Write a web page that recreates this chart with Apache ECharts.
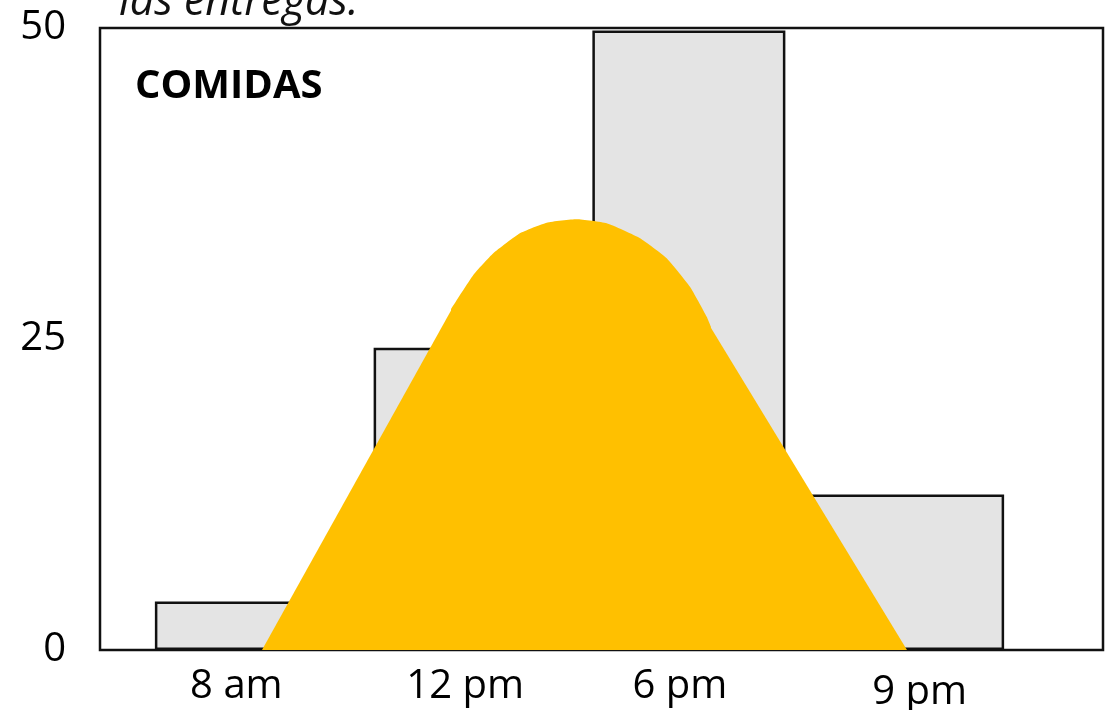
<!DOCTYPE html>
<html>
<head>
<meta charset="utf-8">
<script src="https://cdn.jsdelivr.net/npm/echarts@6/dist/echarts.min.js"></script>
<style>
  html, body { margin: 0; padding: 0; background: #fff; }
  #myEcharts { width: 1105px; height: 710px; }
</style>
</head>
<body>
<div id="myEcharts"></div>
<script>
// datos
const categories = ['8 am', '12 pm', '6 pm', '9 pm']
const mealValues = [3.9, 24.3, 49.8, 12.5]
const yTicks = [0, 25, 50]

// curva amarilla (x en escala 0-100 a lo ancho del marco)
const legX = [16.15, 35.19, 60.62, 80.46]
const legY = [0, 27.57, 26.29, 0]
const capX = [35.0, 37.22, 39.21, 41.87, 44.54, 47.53, 50.52, 53.84, 56.50, 58.82, 60.49, 60.9]
const capY = [27.4, 30.14, 31.89, 33.50, 34.35, 34.62, 34.30, 33.10, 31.49, 29.20, 26.79, 26.0]

const FONT = '"Open Sans", "Noto Sans", sans-serif'
// desplazamiento de cada etiqueta del eje x
const labelShift = [-15, -5, -9, 12]

const rich = {}
labelShift.forEach((s, i) => {
  rich['p' + i] = {
    fontFamily: FONT,
    fontSize: 40,
    color: '#000',
    padding: s < 0 ? [0, -2 * s, 0, 0] : [i === 3 ? 6 : 0, 0, 0, 2 * s]
  }
})

const chart = echarts.init(document.getElementById('myEcharts'))

const option = {
  animation: false,
  backgroundColor: '#fff',
  grid: [
    // marco
    { left: 100, right: 2, top: 28, bottom: 60, outerBoundsMode: 'none', show: true, borderColor: '#111', borderWidth: 2.5, backgroundColor: 'transparent' },
    // barras
    { left: 142, right: 88, top: 28, bottom: 60, outerBoundsMode: 'none' }
  ],
  xAxis: [
    {
      type: 'category',
      gridIndex: 1,
      data: categories,
      axisLine: { show: false },
      axisTick: { show: false },
      axisLabel: {
        margin: 17,
        formatter: (v, i) => `{p${i}|${v}}`,
        rich: rich
      }
    },
    {
      type: 'value',
      gridIndex: 0,
      min: 0,
      max: 100,
      show: false
    }
  ],
  yAxis: [
    {
      type: 'value',
      gridIndex: 0,
      min: yTicks[0],
      max: yTicks[yTicks.length - 1],
      interval: 25,
      axisLine: { show: false },
      axisTick: { show: false },
      splitLine: { show: false },
      axisLabel: { margin: 34, fontFamily: FONT, fontSize: 40, color: '#000' }
    },
    {
      type: 'value',
      gridIndex: 1,
      min: 0,
      max: 50,
      show: false
    }
  ],
  series: [
    {
      type: 'bar',
      xAxisIndex: 0,
      yAxisIndex: 1,
      data: mealValues,
      barWidth: 193,
      itemStyle: { color: '#e4e4e4', borderColor: '#111', borderWidth: 2.5 }
    },
    {
      type: 'line',
      xAxisIndex: 1,
      yAxisIndex: 0,
      data: legX.map((x, i) => [x, legY[i]]),
      showSymbol: false,
      lineStyle: { width: 0 },
      areaStyle: { color: '#FFC000', opacity: 1 },
      z: 3
    },
    {
      type: 'line',
      xAxisIndex: 1,
      yAxisIndex: 0,
      data: capX.map((x, i) => [x, capY[i]]),
      smooth: 0.15,
      showSymbol: false,
      lineStyle: { width: 0 },
      areaStyle: { color: '#FFC000', opacity: 1 },
      z: 3
    }
  ],
  graphic: [
    {
      type: 'text',
      left: 119,
      top: -19,
      style: { text: 'las entregas.', font: 'italic 43px ' + FONT, fill: '#111' }
    },
    {
      type: 'text',
      left: 135,
      top: 67,
      style: { text: 'COMIDAS', font: 'bold 40px ' + FONT, fill: '#000' }
    }
  ]
}

chart.setOption(option)
</script>
</body>
</html>
